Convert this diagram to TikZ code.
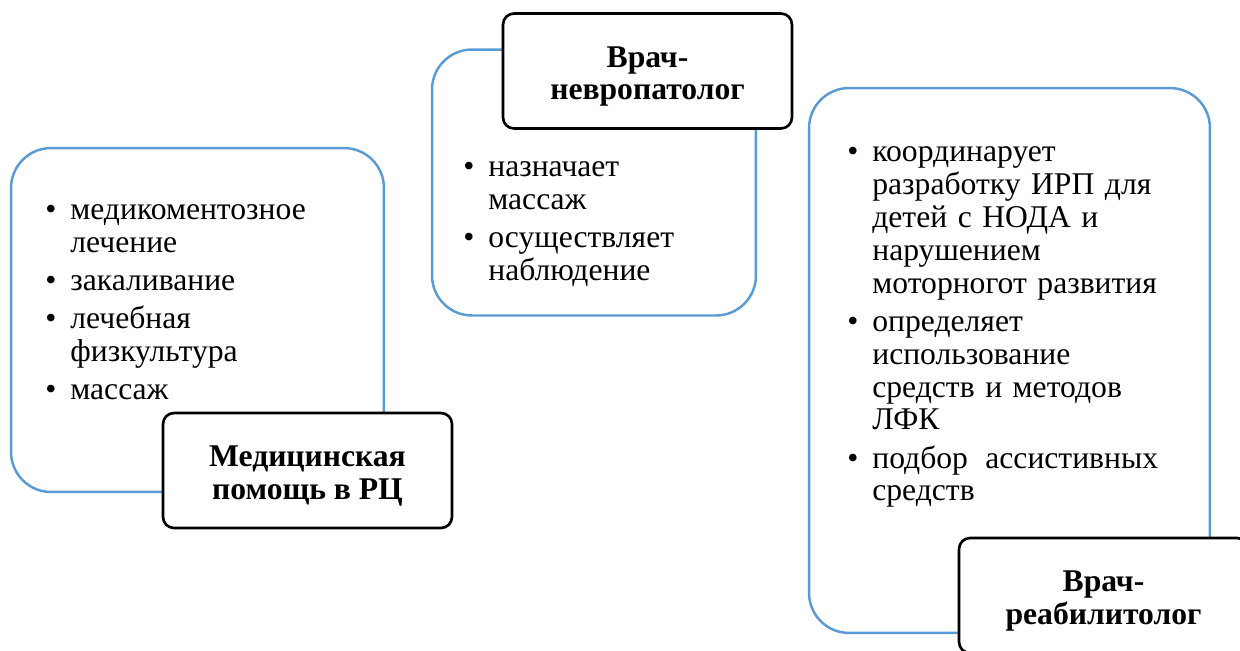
\documentclass[tikz,border=0pt]{standalone}
\usepackage{fontspec}
\setmainfont{Liberation Serif}
\usepackage{enumitem}
\usepackage{tikz}
\definecolor{panelblue}{HTML}{5B9BD5}
\setlist[itemize]{label=\textbullet, leftmargin=0.4cm, labelsep=0.28cm, itemsep=3pt, topsep=0pt, parsep=0pt, partopsep=0pt}
\newcommand{\headstrut}{\rule{0pt}{1em}}
\tikzset{panel/.style = {draw=panelblue, line width=1.4pt, rectangle, rounded corners=0.8cm},
         head/.style = {draw, fill=white, line width=1.5pt, rectangle, rounded corners=0.22cm, minimum width=5.78cm, minimum height=2.3cm, align=center, font=\bfseries\fontsize{18}{18.7}\selectfont},
         items/.style = {anchor=base west, inner sep=0pt, align=left, font=\fontsize{18}{18.7}\selectfont\raggedright}}

\begin{document}
\begin{tikzpicture}[x=0.02cm,y=-0.02cm]
    \clip (0,0) rectangle (1240,650);
    \node[panel, minimum width=7.46cm, minimum height=6.88cm](rc)at(197.5,320){};
    \node[panel, minimum width=6.48cm, minimum height=5.32cm](nevro)at(594,182.5){};
    \node[panel, minimum width=8.02cm, minimum height=10.9cm](reab)at(1009.5,360.5){};
    \node[items, text width=6.5cm](rclist)at(50,187){\begin{itemize}
        \item медикоментозное\newline лечение
        \item закаливание
        \item лечебная\newline физкультура
        \item массаж
    \end{itemize}};
    \node[items, text width=5.5cm](nevrolist)at(468,144){\begin{itemize}
        \item назначает\newline массаж
        \item осуществляет\newline наблюдение
    \end{itemize}};
    \node[items, text width=6.8cm](reablist)at(852,129){\begin{itemize}
        \item координарует\newline разработку ИРП для\newline детей с НОДА и\newline нарушением\newline моторногот развития
        \item определяет\newline использование\newline средств и методов\newline ЛФК
        \item подбор\hspace{0.55em}ассистивных\newline средств
    \end{itemize}};
    \node[head](rchead)at(307.5,470.5){\headstrut Медицинская\\помощь в РЦ};
    \node[head](nevrohead)at(647.5,71){\headstrut Врач-\\невропатолог};
    \node[head](reabhead)at(1103.5,595.5){\headstrut Врач-\\реабилитолог};
\end{tikzpicture}
\end{document}
